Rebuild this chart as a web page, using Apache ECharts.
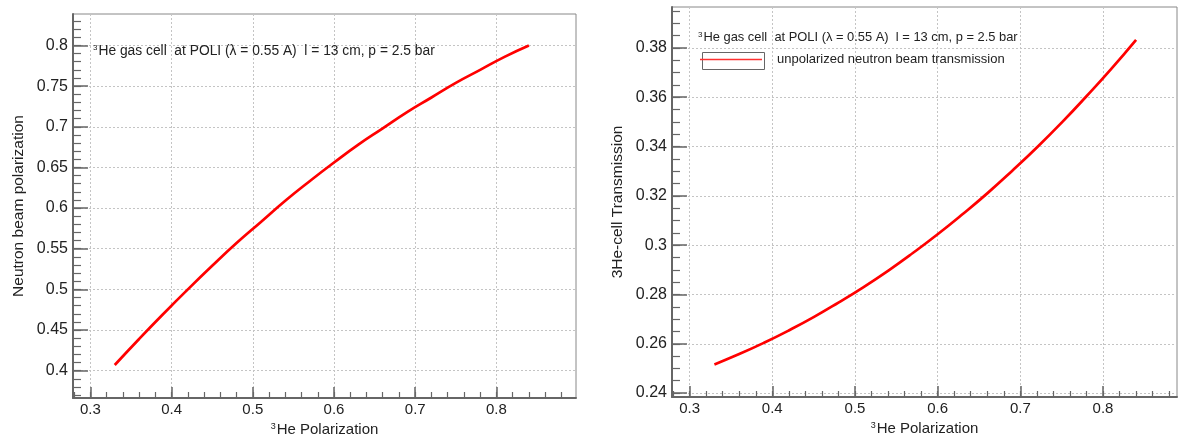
<!DOCTYPE html>
<html><head><meta charset="utf-8">
<script src="https://cdn.jsdelivr.net/npm/echarts@6/dist/echarts.min.js"></script>
<style>html,body{margin:0;padding:0;background:#fff}#c{width:1178px;height:437px}</style>
</head><body><div id="c"></div>
<script>
// ---- data ----
const polHe = [0.33,0.36,0.39,0.42,0.45,0.48,0.51,0.54,0.57,0.60,0.63,0.66,0.69,0.72,0.75,0.78,0.81,0.84];
const neutronPol = [0.407,0.439,0.470,0.500,0.529,0.557,0.583,0.609,0.633,0.656,0.678,0.698,0.718,0.736,0.754,0.770,0.786,0.800];
const transmission = [0.2516,0.2558,0.2604,0.2654,0.2708,0.2767,0.2829,0.2896,0.2968,0.3044,0.3125,0.3210,0.3301,0.3396,0.3497,0.3604,0.3715,0.3833];
const xTicks = [0.3,0.4,0.5,0.6,0.7,0.8];
const yTicksLeft = [0.4,0.45,0.5,0.55,0.6,0.65,0.7,0.75,0.8];
const yTicksRight = [0.24,0.26,0.28,0.3,0.32,0.34,0.36,0.38];
const annotation = 'He gas cell  at POLI (λ = 0.55 A)  l = 13 cm, p = 2.5 bar';
const legendName = 'unpolarized neutron beam transmission';
const xTitle = 'He Polarization';
const yTitleLeft = 'Neutron beam polarization';
const yTitleRight = '3He-cell Transmission';

// ---- decoration helpers ----
function steps(a, b, s){ const out=[]; const n=Math.round((b-a)/s); for(let i=0;i<=n;i++) out.push(+(a+i*s).toFixed(4)); return out; }
const xMinor = steps(0.28, 0.88, 0.02);
const yMinorLeft = steps(0.37, 0.83, 0.01);
const yMinorRight = steps(0.24, 0.395, 0.005);

const FONT = '"Liberation Sans", Arial, Helvetica, sans-serif';
const INK = '#222';
const AX = '#666';
const GRIDLINE = {show:true, lineStyle:{color:'#c4c4c4', type:[2,2], width:1}};
const supRich = (size) => ({
  s:{fontSize:Math.round(size*0.6), fontFamily:FONT, fontWeight:'normal', color:INK, verticalAlign:'top', padding:[0,1,0,0]},
  t:{fontSize:size, fontFamily:FONT, fontWeight:'normal', color:INK}
});

function mainX(grid, min, max){
  return {type:'value', gridIndex:grid, min, max, position:'bottom',
    axisLine:{show:true, onZero:false, lineStyle:{color:AX, width:2}},
    axisTick:{show:true, inside:true, length:11, customValues:xTicks, lineStyle:{color:AX, width:1.5}},
    axisLabel:{show:true, customValues:xTicks, fontSize:15, color:INK, margin:4, fontFamily:FONT},
    splitLine:GRIDLINE,
    name:'{s|3}{t|'+xTitle+'}', nameLocation:'middle', nameGap:16,
    nameTextStyle:{rich:supRich(15)}};
}
function minorX(grid, min, max){
  return {type:'value', gridIndex:grid, min, max, position:'bottom',
    axisLine:{show:false, onZero:false}, axisLabel:{show:false}, splitLine:{show:false},
    axisTick:{show:true, inside:true, length:6, customValues:xMinor, lineStyle:{color:AX, width:1.2}}};
}
function mainY(grid, min, max, ticks, name){
  return {type:'value', gridIndex:grid, min, max, position:'left',
    axisLine:{show:true, onZero:false, lineStyle:{color:AX, width:2}},
    axisTick:{show:true, inside:true, length:15, customValues:ticks, lineStyle:{color:AX, width:1.5}},
    axisLabel:{show:true, customValues:ticks, fontSize:16, color:INK, margin:5, fontFamily:FONT},
    splitLine:GRIDLINE,
    name, nameLocation:'middle', nameGap:46,
    nameTextStyle:{fontSize:15.5, color:INK, fontFamily:FONT}};
}
function minorY(grid, min, max, ticks){
  return {type:'value', gridIndex:grid, min, max, position:'left',
    axisLine:{show:false, onZero:false}, axisLabel:{show:false}, splitLine:{show:false},
    axisTick:{show:true, inside:true, length:8, customValues:ticks, lineStyle:{color:AX, width:1.2}}};
}

const L = {left:73, top:14, width:503, height:384, containLabel:false, outerBoundsMode:'none'};
const R = {left:672, top:7, width:505, height:390, containLabel:false, outerBoundsMode:'none'};
const frame = {show:true, borderColor:'#888', borderWidth:1, backgroundColor:'transparent'};

const option = {
  animation:false,
  backgroundColor:'#fff',
  textStyle:{fontFamily:FONT},
  grid:[Object.assign({}, L, frame), Object.assign({}, L), Object.assign({}, R, frame), Object.assign({}, R)],
  xAxis:[mainX(0,0.2786,0.898), minorX(1,0.2786,0.898), mainX(2,0.2787,0.8895), minorX(3,0.2787,0.8895)],
  yAxis:[mainY(0,0.3664,0.8387,yTicksLeft,yTitleLeft), minorY(1,0.3664,0.8387,yMinorLeft),
         mainY(2,0.2384,0.3966,yTicksRight,yTitleRight), minorY(3,0.2384,0.3966,yMinorRight)],
  title:[
    {text:'{s|3}{t|'+annotation+'}', left:93, top:44, padding:0, textStyle:{fontWeight:'normal', rich:supRich(13.8)}},
    {text:'{s|3}{t|'+annotation+'}', left:698, top:31, padding:0, textStyle:{fontWeight:'normal', rich:supRich(12.9)}}
  ],
  legend:{data:[{name:legendName, icon:'rect'}], left:700, top:53, padding:0, itemWidth:62, itemHeight:1.5,
    itemStyle:{color:'#ff3030', borderWidth:0},
    textStyle:{fontSize:13, color:INK, fontFamily:FONT, padding:[0,0,0,10]}},
  graphic:[{type:'rect', left:700, top:50, shape:{width:62, height:17}, style:{fill:'none', stroke:'#666', lineWidth:1}}],
  series:[
    {type:'line', name:'polarization', xAxisIndex:0, yAxisIndex:0, symbol:'none', smooth:true,
     lineStyle:{color:'#ff0000', width:2.7}, itemStyle:{color:'#ff0000'},
     data:polHe.map((x,i)=>[x, neutronPol[i]])},
    {type:'line', name:legendName, xAxisIndex:2, yAxisIndex:2, symbol:'none', smooth:true,
     lineStyle:{color:'#ff0000', width:2.7}, itemStyle:{color:'#ff0000'},
     data:polHe.map((x,i)=>[x, transmission[i]])}
  ]
};
const chart = echarts.init(document.getElementById('c'), null, {renderer:'canvas'});
chart.setOption(option);
</script></body></html>
